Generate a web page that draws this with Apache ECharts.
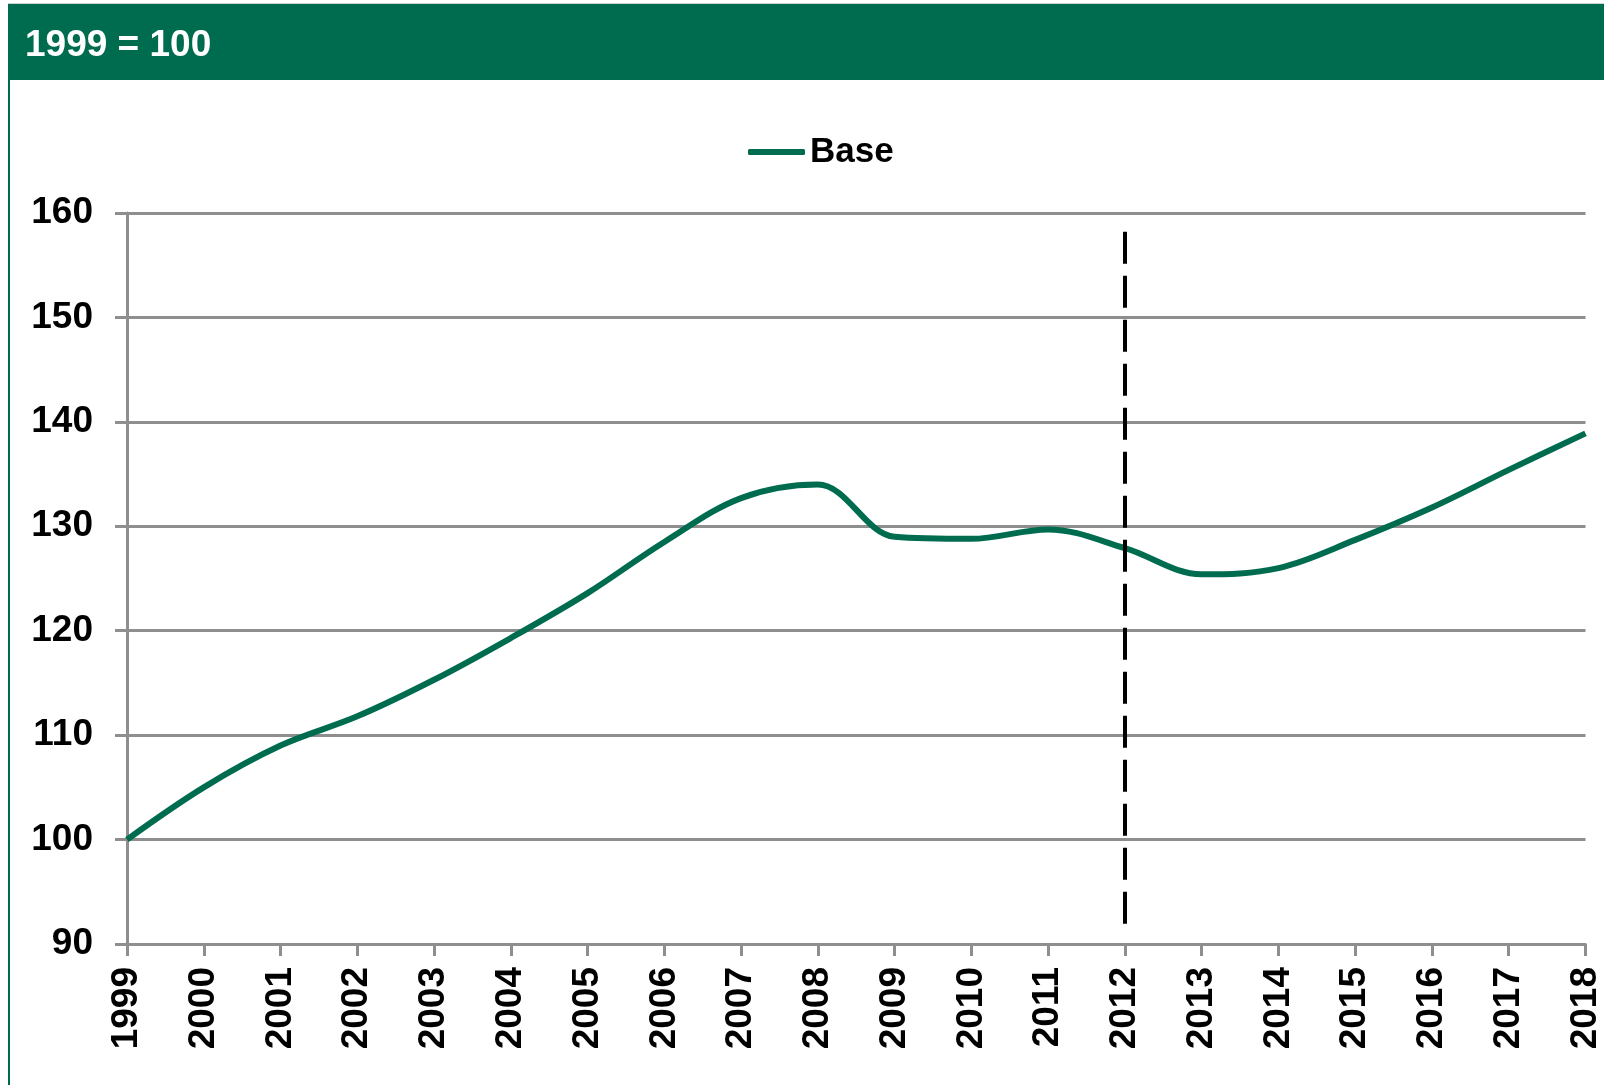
<!DOCTYPE html>
<html>
<head>
<meta charset="utf-8">
<title>1999 = 100</title>
<script src="https://cdn.jsdelivr.net/npm/echarts@6/dist/echarts.min.js"></script>
<style>
  html, body { margin: 0; padding: 0; background: #fff; }
  #chart { width: 1604px; height: 1085px; }
</style>
</head>
<body>
<div id="chart"></div>
<script>
// Index, 1999 = 100
const years = ['1999', '2000', '2001', '2002', '2003', '2004', '2005', '2006', '2007', '2008',
  '2009', '2010', '2011', '2012', '2013', '2014', '2015', '2016', '2017', '2018'];
const baseValues = [100, 105.0, 109.0, 111.8, 115.3, 119.3, 123.6, 128.5, 132.7, 134.0,
  129.0, 128.8, 129.7, 127.9, 125.4, 126.0, 128.7, 131.8, 135.4, 138.9];
const markerYear = '2012';
const markerRange = [158.2, 91.95];

const GREEN = '#006c4f';
const GREY = '#8e8e8e';
const FONT = 'Arial, "Liberation Sans", sans-serif';

const chart = echarts.init(document.getElementById('chart'));

chart.setOption({
  backgroundColor: '#ffffff',
  animation: false,
  graphic: [
    // frame: header band and left rule
    { type: 'rect', left: 8, top: 3, shape: { width: 1596, height: 1 }, style: { fill: '#c9d6d1' }, silent: true },
    { type: 'rect', left: 8, top: 4, shape: { width: 1596, height: 76 }, style: { fill: GREEN }, silent: true },
    { type: 'rect', left: 8, top: 4, shape: { width: 2, height: 1081 }, style: { fill: GREEN }, silent: true }
  ],
  title: {
    text: '1999 = 100',
    left: 25,
    top: 28,
    padding: 0,
    textStyle: { color: '#ffffff', fontFamily: FONT, fontWeight: 'bold', fontSize: 37, lineHeight: 36 }
  },
  legend: {
    data: ['Base'],
    left: 748,
    top: 134,
    padding: 0,
    itemWidth: 57,
    itemHeight: 6,
    icon: 'roundRect',
    textStyle: { color: '#000', fontFamily: FONT, fontWeight: 'bold', fontSize: 35, lineHeight: 36 }
  },
  grid: { left: 127, right: 14, top: 213, bottom: 141, containLabel: false },
  xAxis: {
    type: 'category',
    data: years,
    boundaryGap: false,
    axisLine: { lineStyle: { color: GREY, width: 3 } },
    axisTick: { show: true, length: 12, alignWithLabel: true, lineStyle: { color: GREY, width: 3 } },
    axisLabel: {
      rotate: 90,
      margin: 23,
      interval: 0,
      color: '#000',
      fontFamily: FONT,
      fontWeight: 'bold',
      fontSize: 37
    },
    splitLine: { show: false }
  },
  yAxis: {
    type: 'value',
    min: 90,
    max: 160,
    interval: 10,
    axisLine: { show: true, lineStyle: { color: GREY, width: 3 } },
    axisTick: { show: true, length: 12, lineStyle: { color: GREY, width: 3 } },
    axisLabel: { margin: 34, color: '#000', fontFamily: FONT, fontWeight: 'bold', fontSize: 37 },
    splitLine: { show: true, lineStyle: { color: GREY, width: 3 } }
  },
  series: [{
    name: 'Base',
    type: 'line',
    data: baseValues,
    smooth: 0.35,
    symbol: 'none',
    itemStyle: { color: GREEN },
    lineStyle: { color: GREEN, width: 6 },
    markLine: {
      silent: true,
      symbol: ['none', 'none'],
      label: { show: false },
      lineStyle: { color: '#000', width: 4, type: [32, 12] },
      data: [[
        { coord: [markerYear, markerRange[0]] },
        { coord: [markerYear, markerRange[1]] }
      ]]
    }
  }]
});
</script>
</body>
</html>
